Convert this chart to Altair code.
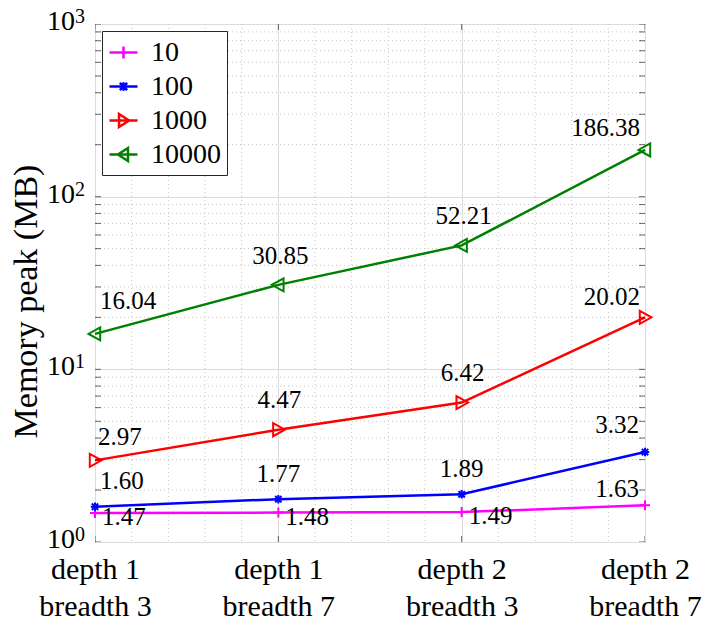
import altair as alt
import pandas as pd

# ---------------- data ----------------
categories_top = ["depth 1", "depth 1", "depth 2", "depth 2"]
categories_bottom = ["breadth 3", "breadth 7", "breadth 3", "breadth 7"]
series_names = ["10", "100", "1000", "10000"]
mem_10 = [1.47, 1.48, 1.49, 1.63]
mem_100 = [1.60, 1.77, 1.89, 3.32]
mem_1000 = [2.97, 4.47, 6.42, 20.02]
mem_10000 = [16.04, 30.85, 52.21, 186.38]
y_decades = [1, 10, 100, 1000]
y_exponents = ["0", "1", "2", "3"]
y_title = "Memory peak (MB)"

# ---------------- style ----------------
FONT = "Liberation Serif"
W, H = 550, 518
series_colors = ["#ff00ff", "#0000ff", "#ff0000", "#008000"]
marker_paths = [
    "M-1,0L1,0M0,-1L0,1",
    "M-1,0L1,0M0,-1L0,1M-0.75,-0.75L0.75,0.75M-0.75,0.75L0.75,-0.75",
    "M-0.8,-1L1,0L-0.8,1Z",
    "M0.8,-1L-1,0L0.8,1Z",
]
marker_sizes = [100, 72, 169, 169]
legend_paths = [
    "M-1,0L1,0M0,-0.43L0,0.43",
    "M-1,0L1,0M0,-0.3L0,0.3M-0.26,-0.26L0.26,0.26M-0.26,0.26L0.26,-0.26",
    "M-1,0L1,0M-0.32,-0.46L0.4,0L-0.32,0.46Z",
    "M-1,0L1,0M0.32,-0.46L-0.4,0L0.32,0.46Z",
]
# (align, dx, dy, category positions) for the value labels of each series
label_rules = {
    "10000": [("left", 5, -33, [1]), ("center", 2, -29, [2, 3]), ("right", -5, -22, [4])],
    "1000": [("left", 3, -23, [1]), ("center", 1, -30, [2, 3]), ("right", -5, -20, [4])],
    "100": [("left", 5, -26, [1]), ("center", 0, -25, [2, 3]), ("right", -6, -27, [4])],
    "10": [("left", 7, 4, [1, 2, 3]), ("right", -6, -16, [4])],
}

positions = list(range(1, len(categories_top) + 1))
rows = []
for name, vals in zip(series_names, [mem_10, mem_100, mem_1000, mem_10000]):
    for p, v in zip(positions, vals):
        rows.append({"series": name, "pos": p, "value": v, "label": f"{v:.2f}"})
df = pd.DataFrame(rows)

label_pairs = ",".join(
    f"['{t}','{b}']" for t, b in zip(categories_top, categories_bottom)
)
x_label_expr = f"[{label_pairs}][datum.value - 1]"

x_scale = alt.Scale(domain=[positions[0], positions[-1]], nice=False, zero=False)
y_scale = alt.Scale(type="log", domain=[y_decades[0], y_decades[-1]], nice=False)

x_axis = alt.Axis(
    title=None, values=positions, labelExpr=x_label_expr, grid=True,
    gridColor="#dcdcdc", gridWidth=1, domain=False, ticks=False,
    labelFont=FONT, labelFontSize=30, labelLineHeight=37, labelPadding=12,
    labelColor="black", labelFlush=False, labelBound=False, labelOverlap=False,
)
y_axis = alt.Axis(
    title=y_title, values=y_decades, grid=True, gridColor="#dcdcdc", gridWidth=1,
    domain=False, ticks=False, labels=False, titleFont=FONT, titleFontSize=34,
    titleFontWeight="normal", titleColor="black", titlePadding=52, titleY=277,
)
X = alt.X("pos:Q", scale=x_scale, axis=x_axis)
Y = alt.Y("value:Q", scale=y_scale, axis=y_axis)

# minor grid
minor_y = [k * d for d in y_decades[:-1] for k in range(2, 10)]
minor_x = [p + f / 5 for p in positions[:-1] for f in range(1, 5)]
grid_y = alt.Chart(pd.DataFrame({"value": minor_y})).mark_rule(
    color="#c6c6c6", strokeDash=[1, 3], strokeWidth=1
).encode(y=Y)
grid_x = alt.Chart(pd.DataFrame({"pos": minor_x})).mark_rule(
    color="#c6c6c6", strokeDash=[1, 3], strokeWidth=1
).encode(x=X)

base = alt.Chart(df)
layers = [grid_y, grid_x]
for name, col in zip(series_names, series_colors):
    layers.append(
        base.transform_filter(alt.datum.series == name)
        .mark_line(color=col, strokeWidth=2.5)
        .encode(x=X, y=Y)
    )
for name, col, path, size in zip(series_names, series_colors, marker_paths, marker_sizes):
    layers.append(
        base.transform_filter(alt.datum.series == name)
        .mark_point(shape=path, size=size, filled=False, color=col, strokeWidth=2, opacity=1)
        .encode(x=X, y=Y)
    )
for name in series_names:
    for align, dx, dy, cats in label_rules[name]:
        cond = f"datum.series == '{name}' && indexof({cats}, datum.pos) >= 0"
        layers.append(
            base.transform_filter(cond)
            .mark_text(align=align, baseline="middle", dx=dx, dy=dy, font=FONT,
                       fontSize=25, color="black")
            .encode(x=X, y=Y, text="label:N")
        )

# y tick labels 10^k
all_y_ticks = [k * d for d in y_decades[:-1] for k in range(1, 10)] + [y_decades[-1]]
ylab = pd.DataFrame({"value": y_decades, "exp": y_exponents, "pos": positions[0]})
layers.append(
    alt.Chart(ylab).mark_text(align="right", baseline="middle", dx=-20, dy=-2,
                              font=FONT, fontSize=28, color="black")
    .encode(x=X, y=Y, text=alt.value("10"))
)
layers.append(
    alt.Chart(ylab).mark_text(align="left", baseline="middle", dx=-20, dy=-7,
                              font=FONT, fontSize=20, color="black")
    .encode(x=X, y=Y, text="exp:N")
)

# inward ticks (clipped to the plot box)
for edge in [positions[0], positions[-1]]:
    layers.append(
        alt.Chart(pd.DataFrame({"value": all_y_ticks, "pos": edge}))
        .mark_tick(orient="horizontal", size=12, thickness=1, color="#262626", clip=True)
        .encode(x=X, y=Y)
    )
for edge in [y_decades[0], y_decades[-1]]:
    layers.append(
        alt.Chart(pd.DataFrame({"pos": positions, "value": edge}))
        .mark_tick(orient="vertical", size=12, thickness=1, color="#262626", clip=True)
        .encode(x=X, y=Y)
    )

# legend helper layer (marks fall outside the plot and are clipped)
layers.append(
    base.transform_calculate(value="datum.value / 100000")
    .mark_point(filled=False, clip=True, strokeWidth=2.5, size=784, opacity=1)
    .encode(
        x=X, y=Y,
        color=alt.Color("series:N", scale=alt.Scale(domain=series_names, range=series_colors),
                        legend=alt.Legend(title=None)),
        shape=alt.Shape("series:N", scale=alt.Scale(domain=series_names, range=legend_paths),
                        legend=alt.Legend(title=None)),
    )
)

chart = (
    alt.layer(*layers)
    .properties(width=W, height=H, autosize="none",
                padding={"left": 95, "top": 24, "right": 67, "bottom": 81},
                background="white")
    .configure_view(stroke="#262626", strokeWidth=1)
    .configure_legend(
        orient="top-left", offset=7, fillColor="white", strokeColor="#262626",
        padding=6, labelFont=FONT, labelFontSize=28, labelColor="black",
        symbolSize=784, symbolStrokeWidth=2.5, rowPadding=4, labelOffset=12,
    )
)

chart.save("out.html", embed_options={"renderer": "svg", "actions": False})
